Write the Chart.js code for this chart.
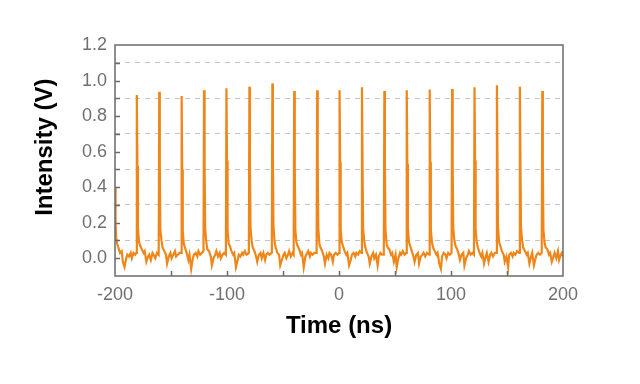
<!DOCTYPE html>
<html>
<head>
<meta charset="utf-8">
<script src="https://cdn.jsdelivr.net/npm/chart.js@4/dist/chart.umd.min.js"></script>
<style>
  html, body { margin: 0; padding: 0; background: #ffffff; }
  #c { display: block; }
</style>
</head>
<body>
<canvas id="c" width="640" height="384"></canvas>
<script>
// ---- Data ----
const timeNs = [
  -200, -199.5, -199, -198, -197, -195.5, -194, -193, -191.5, -190, -189, -187.5, -186, -185, -183.5, -182,
  -181, -180.5, -180, -179.5, -178.5, -177.5, -176, -174.5, -173.5, -172, -170.5, -169.5, -168, -166.5, -165.5, -164, -162.5,
  -161, -160.5, -160, -159.5, -158.5, -157.5, -156, -154.5, -153.5, -152, -150.5, -149.5, -148, -146.5, -145.5, -144, -142.5,
  -141, -140.5, -140, -139.5, -138.5, -137.5, -136, -134.5, -133.5, -132, -130.5, -129.5, -128, -126.5, -125.5, -124, -122.5,
  -121, -120.5, -120, -119.5, -118.5, -117.5, -116, -114.5, -113.5, -112, -110.5, -109.5, -108, -106.5, -105.5, -104, -102.5,
  -101, -100.5, -100, -99.5, -98.5, -97.5, -96, -94.5, -93.5, -92, -90.5, -89.5, -88, -86.5, -85.5, -84, -82.5,
  -80.5, -80, -79.5, -79, -78, -77, -75.5, -74, -73, -71.5, -70, -69, -67.5, -66, -65, -63.5, -62,
  -60, -59.5, -59, -58.5, -57.5, -56.5, -55, -53.5, -52.5, -51, -49.5, -48.5, -47, -45.5, -44.5, -43, -41.5,
  -40.5, -40, -39.5, -39, -38, -37, -35.5, -34, -33, -31.5, -30, -29, -27.5, -26, -25, -23.5, -22,
  -20, -19.5, -19, -18.5, -17.5, -16.5, -15, -13.5, -12.5, -11, -9.5, -8.5, -7, -5.5, -4.5, -3, -1.5,
  0, 0.5, 1, 1.5, 2.5, 3.5, 5, 6.5, 7.5, 9, 10.5, 11.5, 13, 14.5, 15.5, 17, 18.5,
  20, 20.5, 21, 21.5, 22.5, 23.5, 25, 26.5, 27.5, 29, 30.5, 31.5, 33, 34.5, 35.5, 37, 38.5,
  40, 40.5, 41, 41.5, 42.5, 43.5, 45, 46.5, 47.5, 49, 50.5, 51.5, 53, 54.5, 55.5, 57, 58.5,
  60, 60.5, 61, 61.5, 62.5, 63.5, 65, 66.5, 67.5, 69, 70.5, 71.5, 73, 74.5, 75.5, 77, 78.5,
  80.5, 81, 81.5, 82, 83, 84, 85.5, 87, 88, 89.5, 91, 92, 93.5, 95, 96, 97.5, 99,
  100.5, 101, 101.5, 102, 103, 104, 105.5, 107, 108, 109.5, 111, 112, 113.5, 115, 116, 117.5, 119,
  120.5, 121, 121.5, 122, 123, 124, 125.5, 127, 128, 129.5, 131, 132, 133.5, 135, 136, 137.5, 139,
  140.5, 141, 141.5, 142, 143, 144, 145.5, 147, 148, 149.5, 151, 152, 153.5, 155, 156, 157.5, 159,
  161, 161.5, 162, 162.5, 163.5, 164.5, 166, 167.5, 168.5, 170, 171.5, 172.5, 174, 175.5, 176.5, 178, 179.5,
  181, 181.5, 182, 182.5, 183.5, 184.5, 186, 187.5, 188.5, 190, 191.5, 192.5, 194, 195.5, 196.5, 198, 199, 200
];
const intensityV = [
  0.40, 0.20, 0.12, 0.08, 0.06, 0.03, 0.04, -0.02, -0.05, 0.00, 0.02, 0.01, 0.03, 0.00, 0.03, 0.02,
  0.03, 0.918, 0.52, 0.17, 0.09, 0.07, 0.05, 0.03, 0.04, -0.02, 0.01, 0.02, -0.01, 0.03, 0.02, 0.00, 0.03,
  0.02, 0.937, 0.54, 0.16, 0.10, 0.06, 0.04, 0.02, -0.03, 0.01, 0.03, 0.00, 0.02, 0.04, 0.01, 0.02, 0.03,
  0.03, 0.913, 0.50, 0.15, 0.08, 0.06, 0.03, -0.01, 0.02, -0.06, 0.00, 0.02, 0.03, 0.01, 0.04, 0.02, 0.03,
  0.04, 0.946, 0.53, 0.17, 0.09, 0.05, 0.04, 0.01, -0.04, 0.00, 0.02, 0.04, 0.01, 0.03, 0.00, 0.02, 0.03,
  0.02, 0.956, 0.55, 0.16, 0.08, 0.07, 0.04, 0.02, 0.03, -0.05, -0.01, 0.02, 0.01, 0.03, 0.02, 0.04, 0.02,
  0.03, 0.965, 0.54, 0.17, 0.10, 0.06, 0.04, 0.01, -0.02, 0.02, 0.03, 0.00, 0.03, -0.01, 0.02, 0.03, 0.02,
  0.03, 0.984, 0.56, 0.18, 0.09, 0.06, 0.03, 0.02, -0.04, -0.01, 0.02, 0.03, 0.00, 0.02, 0.04, 0.01, 0.03,
  0.02, 0.941, 0.52, 0.16, 0.09, 0.07, 0.05, 0.02, 0.03, -0.05, 0.01, 0.02, 0.04, 0.01, 0.03, 0.02, 0.03,
  0.03, 0.946, 0.53, 0.17, 0.08, 0.06, 0.04, 0.01, -0.03, 0.02, 0.00, 0.03, 0.02, -0.02, 0.02, 0.03, 0.02,
  0.03, 0.946, 0.54, 0.16, 0.09, 0.07, 0.04, 0.02, 0.03, -0.04, -0.01, 0.02, 0.03, 0.01, 0.03, 0.02, 0.04,
  0.03, 0.962, 0.55, 0.17, 0.10, 0.06, 0.03, 0.01, -0.03, 0.01, 0.03, 0.00, 0.02, -0.04, 0.01, 0.03, 0.02,
  0.02, 0.941, 0.52, 0.16, 0.08, 0.06, 0.05, 0.02, 0.03, -0.02, 0.02, -0.05, 0.00, 0.03, 0.02, 0.04, 0.02,
  0.03, 0.946, 0.53, 0.17, 0.09, 0.07, 0.04, 0.01, -0.02, 0.02, 0.03, -0.03, 0.01, 0.02, 0.03, 0.01, 0.03,
  0.02, 0.950, 0.54, 0.16, 0.09, 0.06, 0.04, 0.02, 0.03, -0.03, -0.06, 0.01, 0.03, 0.02, 0.00, 0.03, 0.02,
  0.03, 0.952, 0.54, 0.17, 0.10, 0.07, 0.05, 0.02, -0.01, 0.02, 0.03, -0.04, 0.00, 0.02, 0.04, 0.02, 0.03,
  0.02, 0.962, 0.55, 0.16, 0.09, 0.06, 0.03, 0.01, 0.03, -0.03, 0.01, 0.03, -0.02, 0.02, 0.03, 0.01, 0.03,
  0.03, 0.973, 0.56, 0.17, 0.09, 0.07, 0.04, 0.02, -0.02, 0.01, -0.05, 0.02, 0.03, 0.01, 0.03, 0.02, 0.04,
  0.03, 0.965, 0.55, 0.17, 0.10, 0.06, 0.04, 0.02, 0.03, -0.03, 0.01, 0.03, -0.04, 0.00, 0.02, 0.03, 0.02,
  0.03, 0.941, 0.53, 0.16, 0.09, 0.06, 0.05, 0.02, 0.03, -0.02, 0.01, 0.03, 0.00, 0.04, -0.01, 0.02, 0.03, 0.01
];
const xTickValues = [-200, -150, -100, -50, 0, 50, 100, 150, 200];
const xTickLabels = ['-200', '-100', '0', '100', '200'];
const yTickValues = [-0.1, 0.0, 0.1, 0.2, 0.3, 0.4, 0.5, 0.6, 0.7, 0.8, 0.9, 1.0, 1.1, 1.2];
const yTickLabels = ['0.0', '0.2', '0.4', '0.6', '0.8', '1.0', '1.2'];
const yGridValues = [0.1, 0.3, 0.5, 0.7, 0.9, 1.1];
const xTitle = 'Time (ns)';
const yTitle = 'Intensity (V)';

// ---- Rendering ----
const FONT = "'Liberation Sans', Arial, Helvetica, sans-serif";
const points = timeNs.map((t, i) => ({ x: t, y: intensityV[i] }));

function near(a, b) { return Math.abs(a - b) < 1e-6; }

const frameAndTicks = {
  id: 'frameAndTicks',
  afterDraw(chart) {
    const { ctx, chartArea: a, scales } = chart;
    ctx.save();
    ctx.strokeStyle = '#6b6b6b';
    ctx.lineWidth = 1.5;
    scales.y.ticks.forEach(tk => {
      if (near(tk.value, -0.1) || near(tk.value, 1.2)) return;
      const py = Math.round(scales.y.getPixelForValue(tk.value)) + 0.5;
      ctx.beginPath(); ctx.moveTo(a.left, py); ctx.lineTo(a.left + 5, py); ctx.stroke();
    });
    scales.x.ticks.forEach(tk => {
      if (near(tk.value, -200) || near(tk.value, 200)) return;
      const px = Math.round(scales.x.getPixelForValue(tk.value)) + 0.5;
      ctx.beginPath(); ctx.moveTo(px, a.bottom); ctx.lineTo(px, a.bottom - 5); ctx.stroke();
    });
    ctx.strokeRect(a.left, a.top, a.right - a.left, a.bottom - a.top);
    ctx.restore();
  }
};

new Chart(document.getElementById('c'), {
  type: 'line',
  data: {
    datasets: [{
      data: points,
      borderColor: '#ef8619',
      borderWidth: 2.2,
      pointRadius: 0,
      tension: 0,
      fill: false
    }]
  },
  options: {
    responsive: false,
    animation: false,
    events: [],
    layout: { padding: { left: 0, right: 77, top: 45, bottom: 0 } },
    plugins: { legend: { display: false }, tooltip: { enabled: false } },
    scales: {
      x: {
        type: 'linear',
        min: -200, max: 200,
        afterBuildTicks: s => { s.ticks = xTickValues.map(v => ({ value: v })); },
        afterFit: s => { s.height = 108; },
        ticks: {
          autoSkip: false, maxRotation: 0, padding: 8,
          color: '#707070',
          font: { family: FONT, size: 18 },
          callback: v => { const lbl = String(Math.round(v)); return xTickLabels.includes(lbl) ? lbl : ''; }
        },
        grid: { display: false, drawTicks: false },
        border: { display: false },
        title: {
          display: true, text: xTitle, color: '#000000',
          font: { family: FONT, size: 24, weight: 'bold' },
          padding: { top: 0, bottom: 43 }
        }
      },
      y: {
        type: 'linear',
        min: -0.1, max: 1.2,
        afterBuildTicks: s => { s.ticks = yTickValues.map(v => ({ value: v })); },
        afterFit: s => { s.width = 115; },
        ticks: {
          autoSkip: false, padding: 8,
          color: '#707070',
          font: { family: FONT, size: 18 },
          callback: v => { const lbl = (Math.round(v * 10) / 10).toFixed(1); return yTickLabels.includes(lbl) ? lbl : ''; }
        },
        grid: {
          drawTicks: false,
          lineWidth: 1,
          color: c => (c.tick && yGridValues.some(g => near(g, c.tick.value))) ? '#c4c4c4' : 'rgba(0,0,0,0)'
        },
        border: { display: false, dash: [5, 5] },
        title: {
          display: true, text: '\u00a0\u00a0\u00a0\u00a0' + yTitle, color: '#000000',
          font: { family: FONT, size: 24, weight: 'bold' },
          padding: { top: 31, bottom: 0 }
        }
      }
    }
  },
  plugins: [frameAndTicks]
});
</script>
</body>
</html>
